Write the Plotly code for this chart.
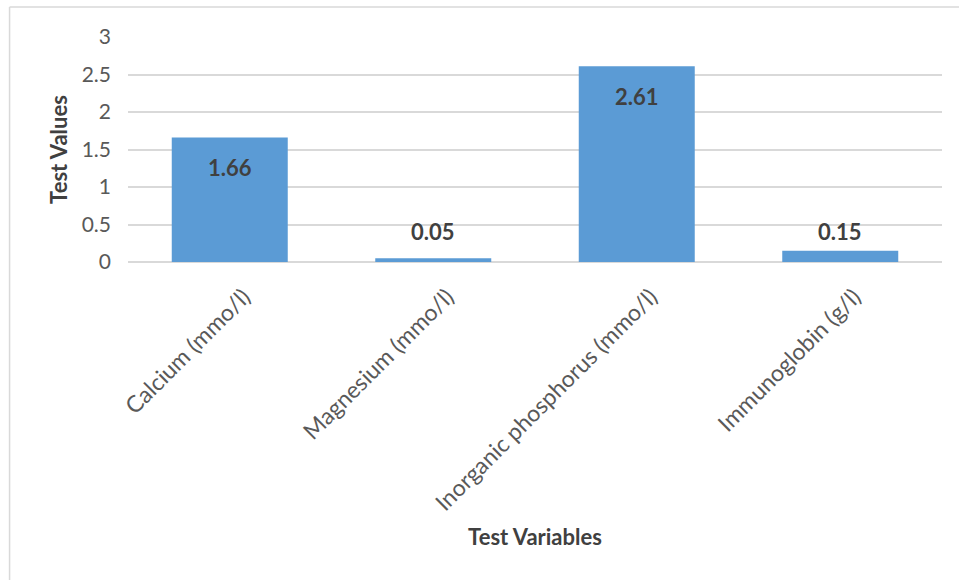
import plotly.graph_objects as go

categories = ["Calcium (mmo/l)", "Magnesium (mmo/l)", "Inorganic phosphorus (mmo/l)", "Immunoglobin (g/l)"]
values = [1.66, 0.05, 2.61, 0.15]
labels = ["1.66", "0.05", "2.61", "0.15"]
y_ticks = [0, 0.5, 1, 1.5, 2, 2.5, 3]
y_tick_text = ["0", "0.5", "1", "1.5", "2", "2.5", "3"]

FONT = "Lato, Open Sans, sans-serif"

fig = go.Figure()
fig.add_trace(go.Bar(
    x=categories, y=values,
    marker=dict(color="#5b9bd5", line=dict(width=0)),
    width=0.57,
    hoverinfo="x+y",
))

# label placement (pixel shifts): inside-end for tall bars, above for short bars
label_shift = [-30, 27, -30, 19]
for c, v, t, s in zip(categories, values, labels, label_shift):
    fig.add_annotation(
        x=c, y=v, text="<b>" + t + "</b>", showarrow=False,
        yanchor="middle", yshift=s,
        font=dict(family=FONT, size=22, color="#404040"),
    )

fig.update_layout(
    width=959, height=580,
    margin=dict(l=128, r=17, t=37, b=318),
    paper_bgcolor="white", plot_bgcolor="white",
    showlegend=False,
    xaxis=dict(
        tickangle=-45,
        tickfont=dict(family=FONT, size=23, color="#595959"),
        showgrid=False, showline=False, ticks="",
        ticklabelshift=14, ticklabelstandoff=16,
        title=dict(text="<b>Test Variables</b>", font=dict(family=FONT, size=22, color="#404040"), standoff=14),
    ),
    yaxis=dict(
        range=[0, 3], tickvals=y_ticks, ticktext=y_tick_text,
        tickfont=dict(family=FONT, size=21, color="#595959"),
        gridcolor="#d9d9d9", gridwidth=1.5, zeroline=True, zerolinecolor="#d9d9d9", zerolinewidth=1.5,
        showline=False, ticks="", ticklabelstandoff=16,
        title=dict(text="<b>Test Values</b>", font=dict(family=FONT, size=22, color="#404040"), standoff=7),
    ),
    shapes=[
        dict(type="line", xref="paper", yref="paper", x0=-0.1455, x1=1.1, y0=1.1335, y1=1.1335,
             line=dict(color="#d9d9d9", width=1.5)),
        dict(type="line", xref="paper", yref="paper", x0=-0.1455, x1=-0.1455, y0=1.1335, y1=-1.5,
             line=dict(color="#d9d9d9", width=1.5)),
    ],
)

fig.write_html("out.html")
